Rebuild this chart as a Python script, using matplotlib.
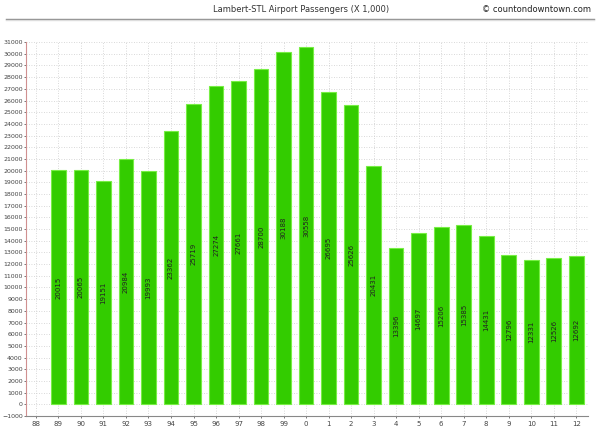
import matplotlib
matplotlib.use("Agg")
import matplotlib.pyplot as plt
import numpy as np

years = ["88", "89", "90", "91", "92", "93", "94", "95", "96", "97", "98", "99", "0",
         "1", "2", "3", "4", "5", "6", "7", "8", "9", "10", "11", "12"]
passengers = [None, 20015, 20065, 19151, 20984, 19993, 23362, 25719, 27274, 27661, 28700,
              30188, 30558, 26695, 25626, 20431, 13396, 14697, 15206, 15385, 14431,
              12796, 12331, 12526, 12692]
title = "Lambert-STL Airport Passengers (X 1,000)"
credit = "\u00a9 countondowntown.com"

fig = plt.figure(figsize=(6, 4.42), dpi=100)
ax = fig.add_axes([0.0433, 0.0588, 0.936, 0.846])

x = np.arange(len(years))
for xi, v in zip(x, passengers):
    if v is None:
        continue
    ax.bar(xi, v, width=0.65, color="#33cc00", edgecolor="#77ee44", linewidth=0.8, zorder=3)
    ax.text(xi, v / 2, str(v), rotation=90, ha="center", va="center",
            fontsize=5, color="#222222", zorder=4)

ax.set_xlim(-0.44, 24.5)
ax.set_ylim(-1000, 31000)
ax.set_yticks(np.arange(-1000, 31001, 1000))
ax.set_xticks(x)
ax.set_xticklabels(years)
ax.tick_params(axis="both", labelsize=4.5, length=1.5, width=0.5, colors="#444444", pad=0.8)
ax.tick_params(axis="x", pad=2, labelsize=5)
ax.grid(True, linestyle=(0, (1, 2)), color="#cccccc", linewidth=0.6, zorder=0)
for s in ["top", "right"]:
    ax.spines[s].set_visible(False)
ax.spines["left"].set_color("#d09090")
ax.spines["left"].set_linewidth(0.8)
ax.spines["bottom"].set_color("#888888")
ax.spines["bottom"].set_linewidth(0.8)

fig.text(0.502, 0.978, title, ha="center", va="center", fontsize=6, color="#333333")
fig.text(0.985, 0.978, credit, ha="right", va="center", fontsize=6, color="#222222")
fig.add_artist(plt.Line2D([0.01, 0.99], [0.958, 0.958], color="#888888", linewidth=1.0,
                          transform=fig.transFigure))
fig.add_artist(plt.Line2D([0.01, 0.99], [0.954, 0.954], color="#dddddd", linewidth=1.0,
                          transform=fig.transFigure))

fig.savefig("out.png", dpi=100)
